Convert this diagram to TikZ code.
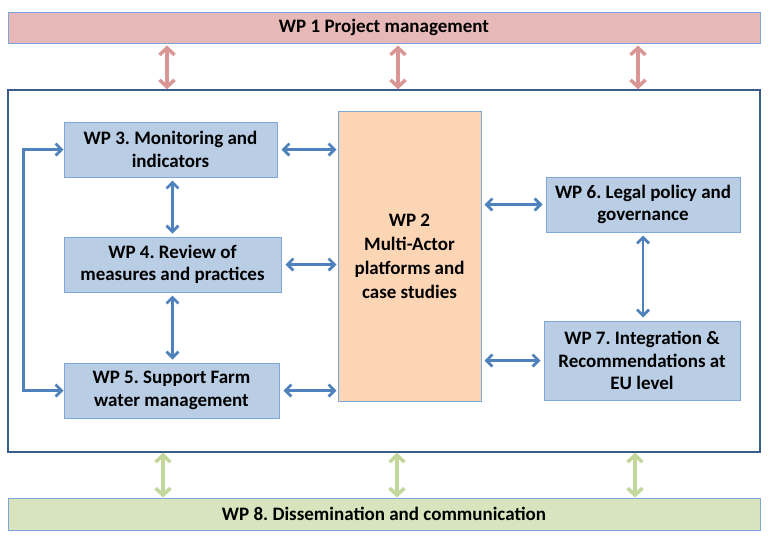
\documentclass[tikz,border=0pt]{standalone}
\usepackage{fontspec}
\setmainfont{Carlito}
\usepackage{tikz}
\usetikzlibrary{arrows.meta,calc}
\frenchspacing

\definecolor{wpblue}{RGB}{185,205,229}
\definecolor{wpline}{RGB}{126,166,214}
\definecolor{wpframe}{RGB}{56,93,138}
\definecolor{wparrow}{RGB}{79,129,189}
\definecolor{wppink}{RGB}{230,185,184}
\definecolor{wppinkarrow}{RGB}{218,150,148}
\definecolor{wporange}{RGB}{252,213,181}
\definecolor{wpgreen}{RGB}{215,228,189}
\definecolor{wpgreenarrow}{RGB}{195,214,155}

\begin{document}
\begin{tikzpicture}[x=1pt,y=-1pt,
  font=\fontsize{19}{22.5}\selectfont\bfseries,
  wpbox/.style={draw=wpline,line width=1pt,fill=wpblue,align=center,inner sep=0pt},
  bar/.style={draw=wpline,line width=1pt,minimum width=752pt,inner sep=0pt},
  link/.style={draw=wparrow,line width=2.8pt,{Straight Barb[length=6pt,width=12pt]}-{Straight Barb[length=6pt,width=12pt]}},
  toplink/.style={draw=wppinkarrow,line width=3.5pt,{Straight Barb[length=7pt,width=15pt]}-{Straight Barb[length=7pt,width=15pt]}},
  botlink/.style={draw=wpgreenarrow,line width=3.5pt,{Straight Barb[length=7pt,width=15pt]}-{Straight Barb[length=7pt,width=15pt]}}]
  \useasboundingbox (0,0) rectangle (768,539);
  % outer bars and frame
  \node[bar,fill=wppink,minimum height=31pt] (wp1) at (384,27.5) {WP 1 Project management};
  \node[draw=wpframe,line width=1.5pt,minimum width=752pt,minimum height=362pt] (frame) at (384,271) {};
  \node[bar,fill=wpgreen,minimum height=32pt] (wp8) at (384,514) {WP 8. Dissemination and communication};
  % work packages
  \node[wpbox,minimum width=213pt,minimum height=55pt] (wp3) at (170.5,149.5) {WP 3. Monitoring and\\indicators};
  \node[wpbox,minimum width=217pt,minimum height=55pt] (wp4) at (172.5,264.5) {WP 4. Review of\\measures and practices};
  \node[wpbox,minimum width=215pt,minimum height=55pt] (wp5) at (171.5,390.5) {WP 5. Support Farm\\water management};
  \node[wpbox,fill=wporange,font=\fontsize{19}{24}\selectfont\bfseries,minimum width=143pt,minimum height=290pt] (wp2) at (409.5,256) {WP 2\\Multi-Actor\\platforms and\\case studies};
  \node[wpbox,minimum width=194pt,minimum height=55pt] (wp6) at (643,204.5) {WP 6. Legal policy and\\governance};
  \node[wpbox,minimum width=196pt,minimum height=79pt] (wp7) at (642,360.5) {WP 7. Integration \&\\Recommendations at\\EU level};
  % links
  \draw[link,shorten <=4pt,shorten >=1pt] (wp3.east) -- (wp3.east -| wp2.west);
  \draw[link,shorten <=4pt,shorten >=1pt] (wp4.east) -- (wp4.east -| wp2.west);
  \draw[link,shorten <=4pt,shorten >=1pt] (wp5.east) -- (wp5.east -| wp2.west);
  \draw[link,shorten <=3pt,shorten >=3pt] (wp6.west -| wp2.east) -- (wp6.west);
  \draw[link,shorten <=3pt,shorten >=3pt] (wp7.west -| wp2.east) -- (wp7.west);
  \draw[link,shorten <=3pt,shorten >=3pt] (wp3.south -| wp4.north) -- (wp4.north);
  \draw[link,shorten <=3pt,shorten >=3pt] (wp4.south) -- (wp4.south |- wp5.north);
  \draw[link,shorten <=3pt,shorten >=3pt] (wp6.south) -- (wp6.south |- wp7.north);
  \draw[link] (wp3.west) -- ++(-40,0) |- (wp5.west);
  % links to WP 1 and WP 8
  \foreach \x/\y in {167/163,398/397,638/635} {
    \coordinate (t\x) at (\x,0);
    \coordinate (b\y) at (\y,0);
    \draw[toplink,shorten <=2pt] (wp1.south -| t\x) -- (frame.north -| t\x);
    \draw[botlink] (frame.south -| b\y) -- (wp8.north -| b\y);
  }
\end{tikzpicture}
\end{document}
